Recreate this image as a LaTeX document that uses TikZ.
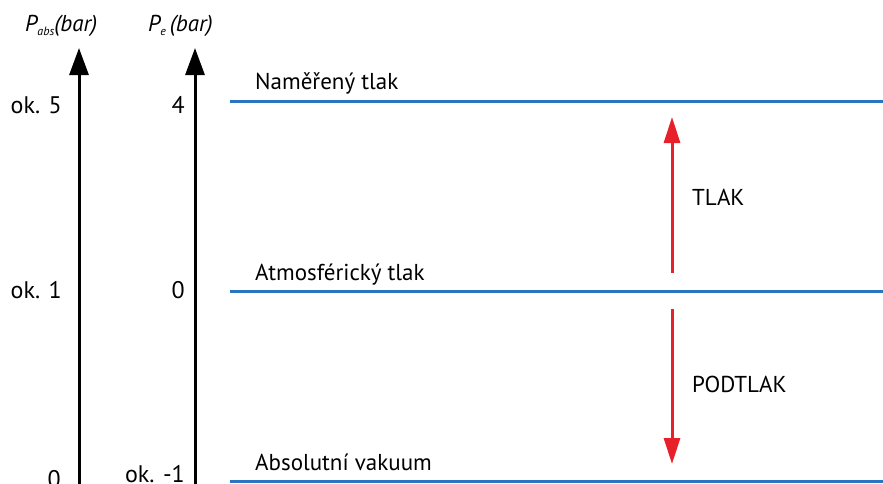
\documentclass[tikz,border=0pt]{standalone}
\usepackage{fontspec}
\setmainfont{PT Sans}
\usetikzlibrary{arrows.meta}
\definecolor{lblue}{HTML}{2A75C0}
\definecolor{lred}{HTML}{E8202A}
\begin{document}
\begin{tikzpicture}[x=1pt,y=-1pt,
  axis/.style={line width=3pt,-{Triangle[length=27pt,width=19pt]}},
  level/.style={line width=3pt,lblue},
  rarrow/.style={line width=3pt,lred,-{Triangle[length=26pt,width=16pt]}},
  lab/.style={font=\fontsize{23}{26}\selectfont,inner sep=0pt,anchor=base west},
  num/.style={font=\fontsize{24}{26}\selectfont,inner sep=0pt,anchor=base east}]
\useasboundingbox (0,0) rectangle (883,483);
% axes
\coordinate (a1s) at (79,490);
\coordinate (a1e) at (79,48);
\coordinate (a2s) at (195,490);
\coordinate (a2e) at (195,48);
\draw[axis] (a1s) -- (a1e);
\draw[axis] (a2s) -- (a2e);
\node[font=\fontsize{23}{26}\selectfont\itshape,inner sep=0pt,anchor=base west] (pabs) at (25,31) {P\raisebox{-0.4ex}{\fontsize{12}{13}\selectfont abs}(bar)};
\node[font=\fontsize{23}{26}\selectfont\itshape,inner sep=0pt,anchor=base west] (pe) at (148,31) {P\raisebox{-0.4ex}{\fontsize{12}{13}\selectfont e}\,(bar)};
% numbers
\node[num] (n1) at (62,113) {ok. 5};
\node[num] (n2) at (185,113) {4};
\node[num] (n3) at (62,298) {ok. 1};
\node[num] (n4) at (185,298) {0};
\node[num] (n5) at (61,487) {0};
\node[num] (n6) at (185,482) {ok. -1};
% levels
\coordinate (l1a) at (230,101); \coordinate (l1b) at (883,101);
\coordinate (l2a) at (230,291); \coordinate (l2b) at (883,291);
\coordinate (l3a) at (230,481); \coordinate (l3b) at (883,481);
\draw[level] (l1a) -- (l1b);
\draw[level] (l2a) -- (l2b);
\draw[level] (l3a) -- (l3b);
\node[lab] (t1) at (255,89) {Naměřený tlak};
\node[lab] (t2) at (255,280) {Atmosférický tlak};
\node[lab] (t3) at (255,470) {Absolutní vakuum};
% red arrows
\coordinate (r1s) at (672,273); \coordinate (r1e) at (672,117);
\coordinate (r2s) at (672,309); \coordinate (r2e) at (672,464);
\draw[rarrow] (r1s) -- (r1e);
\draw[rarrow] (r2s) -- (r2e);
\node[lab] (tlak) at (692,205) {TLAK};
\node[lab] (podtlak) at (692,392) {PODTLAK};
\end{tikzpicture}
\end{document}
